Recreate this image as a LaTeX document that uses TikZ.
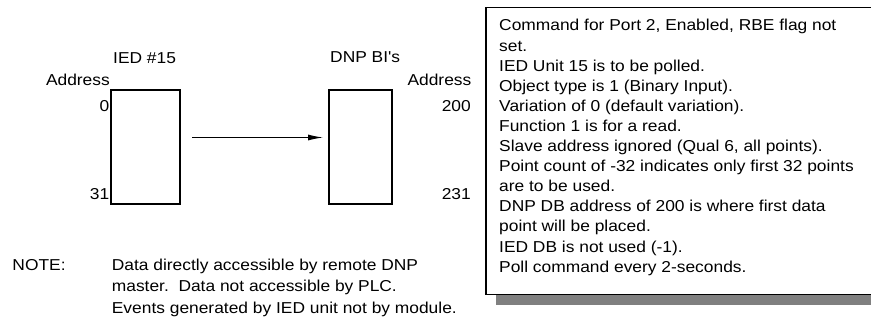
\documentclass[tikz,border=0pt]{standalone}
\usepackage{fontspec}
\setmainfont{Liberation Sans}
\usetikzlibrary{arrows.meta}
\newcommand{\wtxt}[1]{\scalebox{1.1}[1]{#1}}
\tikzset{
  lbl/.style={inner sep=0pt, font=\fontsize{15.8}{20}\selectfont},
  membox/.style={draw, line width=1.2pt, minimum width=#1, minimum height=114pt, inner sep=0pt},
  flow/.style={line width=1pt, -{Latex[length=15pt,width=6pt]}},
}
\begin{document}
\begin{tikzpicture}[x=1pt,y=-1pt]
\useasboundingbox (0,0) rectangle (871,323);
\clip (0,0) rectangle (871,323);
% left diagram
\node[membox=69pt] (ied) at (145.5,147) {};
\node[membox=63pt] (dnp) at (360.5,147) {};
\coordinate (from) at (192,137.5);
\coordinate (to) at (323,137.5);
\draw[flow] (from) -- (to);
\node[lbl, anchor=base west] (iedt) at (113,63.3) {\wtxt{IED \#15}};
\node[lbl, anchor=base east] (addl) at (110,86) {\wtxt{Address}};
\node[lbl, anchor=base east] (a0) at (109.5,111.7) {\wtxt{0}};
\node[lbl, anchor=base east] (a31) at (109.5,199.3) {\wtxt{31}};
\node[lbl, anchor=base west] (dnpt) at (330,63) {\wtxt{DNP BI\textquotesingle s}};
\node[lbl, anchor=base east] (addr) at (471.5,86) {\wtxt{Address}};
\node[lbl, anchor=base east] (a200) at (471,111.7) {\wtxt{200}};
\node[lbl, anchor=base east] (a231) at (471,199.3) {\wtxt{231}};
% note
\node[lbl, anchor=base west] (note) at (12.3,270.3) {\wtxt{NOTE:}};
\node[lbl, anchor=base west] (n1) at (111.7,270.3) {\wtxt{Data directly accessible by remote DNP}};
\node[lbl, anchor=base west] (n2) at (111.7,291.8) {\wtxt{master.\ \ Data not accessible by PLC.}};
\node[lbl, anchor=base west] (n3) at (111.7,313.3) {\wtxt{Events generated by IED unit not by module.}};
% text box with shadow
\fill[black!50] (496,18) rectangle (892,305.5);
\draw[line width=1.2pt, fill=white] (486,7.5) rectangle (882,294.5);
\foreach \t [count=\i from 0] in {
  {Command for Port 2, Enabled, RBE flag not},
  {set.},
  {IED Unit 15 is to be polled.},
  {Object type is 1 (Binary Input).},
  {Variation of 0 (default variation).},
  {Function 1 is for a read.},
  {Slave address ignored (Qual 6, all points).},
  {Point count of -32 indicates only first 32 points},
  {are to be used.},
  {DNP DB address of 200 is where first data},
  {point will be placed.},
  {IED DB is not used (-1).},
  {Poll command every 2-seconds.}}
  \node[lbl, anchor=base west] (l\i) at (499,31+20.1*\i) {\wtxt{\t}};
\end{tikzpicture}
\end{document}
